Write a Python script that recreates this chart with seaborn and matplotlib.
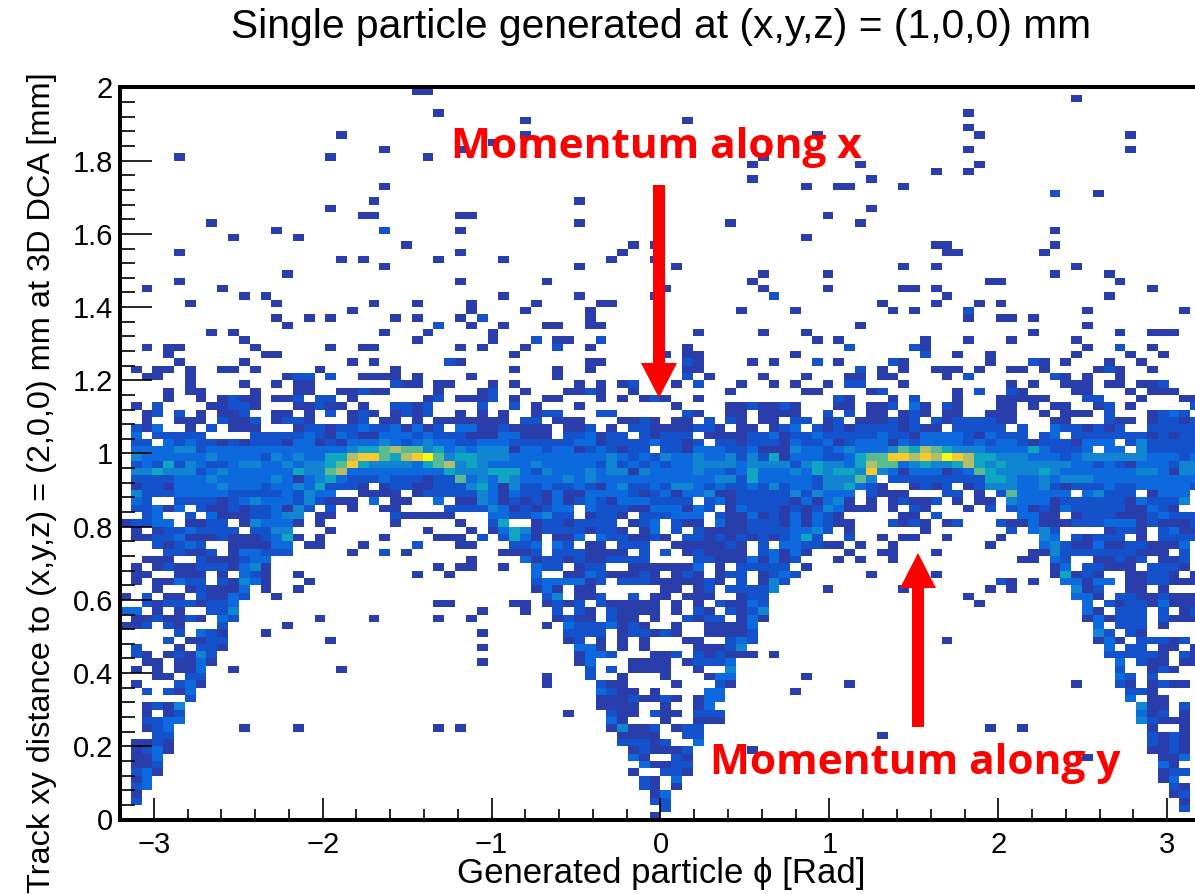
import numpy as np
import matplotlib
matplotlib.use("Agg")
import matplotlib.pyplot as plt
import seaborn as sns
from matplotlib.colors import ListedColormap
from matplotlib.patches import FancyArrow
from matplotlib.transforms import IdentityTransform

# 2D histogram cells, one string per row from y=2 downwards.
# token = column or column range, ":n" gives the count (default 1)
rows_top = [
    "27 28", "88", "", "29 78", "37 52", "78", "20 37 64 79 93", "34", "24 31 78 93", "5 19 28 59",
    "58 68 79", "75 78", "58 69", "24 63 66 67 72", "86:2 90", "23 42", "19 69", "22 23 31 32 65",
    "8 42 56 68", "14 24:2 31 86", "10 16 63", "26 47 49 75 76 86", "5 31 46 76 77 85",
    "20 22 29 35 45 49", "24 42 51 72 75 88", "15 59 65 86 91", "5 31 39 58 80 81 92",
    "2 9 50 59 65 72 73 75 95", "11 13 35 42 49 60:2 76 91", "6 14 23 27 32 38 44 45 70 75 79 81",
    "21 32 37 43 57 62 71 73 78:2 89 98", "14 17 19 25 27 31 33:2 43 78 81 82 84",
    "15 29:2 32 35 39 40 43 44 68 89", "8 10 24 28 34 53 59 63 84 92 95-97",
    "11 27 34 38:2 40 41 44:2 64 66 74 78 82 88",
]
rows_band = [
    "2 4 5 12 19 22 23 31 33 37 40:2 43 52 67:2 73:2 74 89 92:2 95",
    "4 13 14 36 50 52 53 62 74:2 77 80 88 93 96",
    "5 11 21 23 30:2 31 43 44 52:2 53 58 60 64:2 66 71:2 72 80 84:2 85 87 91 94",
    "1 3 4 6 9 10 12 18 25 36 40 43 52 53 68:2 70 72 75-77 79 82 83 85 90 91:2 92 95",
    "2 3 6 15 16:2 17:2 19:2 22-25 27 32 40 52:2 54 59 63 67 68 70 71 76 78:2 86:2 87 89 92",
    "6 11 14 16 17 25:2 26 27 29 30 34 36 42 44 46 47:2 51 53:2 57 60 62 65 67:2 68:2 72 82 84 87-89 91 92 94 95 96:2",
    "4 6 7 12 16 17 20 21 22:2 23 24 29 33 34:2 37 41 42 43:2 44 47 56 63 64 69 70:2 77 79:2 82:2 83 88 89 93 95-97",
    "4 7 9 10:2 11 12 14 15 16:2 18:2 19:2 21 28 29:2 31 32 33 34:2 36 39 40 44 46 48 49:2 50 53 66:2 67 71 73:2 77 81-85 89:2 90:2 94 98 99",
    "1 3:2 8 9 10:2 11:2 12 16 17 18:2 19 20 22 25:2 26:2 27 28:2 33:2 36:2 38 42 51 56 57 58:2 59 60 61:2 62 66 67 69 70 71:2 73:3 74 76:2 77 81 82 84 86 87 90 91:2 93 99:2",
    "2 3:2 5:2 7 9 10 11:2 14 15 17 19:2 21 22:2 23 25 26:2 27 28:2 31 33 35 38 39:2 40:2 44:2 45:2 52:2 53 56 57 59-62 65:2 67:2 69 70 72 73:2 74 76 77 80-82 85 87-89 91:2 95 96:2 97:3 98:2",
    "2 5-7 9:2 10 11 12:2 14 15:2 16:2 17 21 22:2 24 25 27 29-32 33 34 35 37:2 38:2 40-42 46 47 48:2 49 51 52 54:2 56:2 57 59 60 62:2 63:2 65 66:2 68-70 71:2 72 73:2 75:2 76 77-80:2 81 82 86 87 91:2 92 93 95 96:2 97:2 98 99:2",
    "1:2 2 3:3 6 8:2 10-12 16 17:2 18:2 19 20:2 21:2 22:3 23:2 24:2 25:3 26 27:3 28 29:2 31:3 32:3 33 34 35:2 36-39 41 42 43:2 45 47:2 48:2 49-52 53:2 54:2 55 57 58 60 61:2 62:3 64:2 65 66:2 67 68-70:2 71:2 72 73:2 74 75 77-81:2 83:2 86:3 87:2 88:2 89 90:2 91 92:2 95-99:2",
    "1:3 3-7:2 12-16:2 17:3 18:2 19 20:3 21:2 22 23 24:3 25:3 26:3 27:2 28:3 29-31:2 32-34 35:3 36:3 37-39 41:2 42:2 43:3 44 45:2 46:2 48:2 49 50-52:2 54-57 58:2 59:2 60:3 61 62-63:2 64:3 65-69:2 70:3 71:2 72:2 73 74-77:3 78:2 79 80:3 81-83:2 85:2 86:3 88-94:2 95 96:2 97 98:2 99:2",
    "1:2 2:2 4:3 5:2 6:3 7:2 8:2 9 10:2 11 12:2 13:2 14:2 15 16:3 17:3 18 19:2 20 21:3 22:3 23:3 24:4 25:3 26:2 27:3 28:4 29:3 30:3 31:2 32:2 33:3 34:3 35:3 36:2 37-41:2 42:3 43:3 44 45-48:2 49:3 50:2 51:2 52 53:2 55:2 56:2 57 58-60:2 61 62:3 63:2 64:2 65:3 66 67:2 68:3 69:3 70:3 71 72:3 73:2 74-77:3 78:2 79:3 80:2 81:3 82:3 83:2 84 85-87:2 88 89-91:3 93:2 94:4 95-99:2",
    "1:3 2:3 3:3 4:3 5:4 6:4 7:2 8:3 9-20:3 21:4 22:5 23:5 24:6 25:7 26:6 27:6 28:4 29:5 30:3 31:4 32:3 33:4 34:4 35:4 36 37:3 38:3 39:2 40:3 41:3 42 43:2 44:3 45:2 46 47:2 48:2 50:2 51:2 52 53-55:3 56:2 57:2 58:3 59-61 62:4 63:3 64:3 65:2 66:3 67:4 68:3 69:3 70:3 71:4 72:6 73:5 74:7 75:6 76:5 77-79:4 80-83:3 84:5 85:3 86-88:2 89:3 91:3 92:3 94:4 95-99:2",
    "1:4 2-7:3 8:4 9-12:3 13:2 14:4 15:3 16:4 17:3 18:3 19:5 20:5 21:7 22:8 23:8 24:6 25:5 26:7 27:8 28:9 29:6 30:4 31:5 32:5 33:4 34:4 35:4 36-44:3 45:4 46:3 47:2 48:3 49:2 50:4 51:3 52:3 53:4 54:3 55:3 56:4 57:2 58:4 59:2 60:5 61 62:3 63:3 64:3 65:2 66:2 67:3 68:5 69:6 70:6 71:8 72:8 73:7 74:8 75:7 76:9 77:8 78:7 79:5 80:5 81-83:4 84-86:3 87:2 88:3 89-94:4 95-97:3 98:2 99:3",
    "1:2 2:3 3:2 4:5 5:2 6:4 7:3 8:2 9:2 10:3 11:4 12:4 13:3 14:3 15:4 16:3 17:4 18:4 19:5 20:6 21:8 22:5 23-26:4 27:3 28:5 29:6 30:7 31:4 32:5 33:4 34-37:3 38:4 39-43:3 44:2 45:4 46:2 47:3 48:2 49:3 50:2 51:3 52:3 53-56:4 57:3 58-61:4 62:2 63:4 64:5 65:4 66:4 67:3 68:5 69:7 70:6 71:6 72:3 73:4 74:5 75:4 76:4 77:5 78:7 79:5 80:4 81:5 82-87:4 88:3 89:3 90:2 91:3 92:2 93 94-96:3 97:2 98:4 99:4",
    "1:4 2:4 3:5 4-6:4 7:2 8:3 9:4 10-15:3 16:5 17:4 18:4 19:6 20:7 21-29:3 30:5 31-33:4 34-36:5 37:3 38:2 39:4 40-42:3 43:4 44:3 45:4 46:4 47 48:4 49-52:3 53:4 54:3 55:3 56:2 57:3 58:5 59-61:3 62:4 63:3 64:5 65:4 66:5 67:5 68:4 69:8 70:4 71:3 72 73-75:3 76 77:2 78:3 79:6 80:5 81-84:4 85:5 86:4 87-93:3 94:4 95:4 96:3 97 98:4 99:4",
    "1-4:2 5-7:3 8:4 9-13:3 14:4 15:3 16 17:3 18:4 19:5 20:3 21-23:2 24:3 25-27:2 28 29:2 30:2 31:6 32:3 33:4 34:3 35:5 36:4 37-40:3 41:4 42:3 43:4 44-54:3 55:4 56:4 57:2 58:5 59-63:3 64:2 65-67:4 68:6 69:4 71-79:2 80:5 81:5 82:4 83:3 84:3 85:4 86:3 87-89:4 90-99:3",
    "1 2:2 3:2 4 5:3 6-8:3 9:4 10-12:3 13:2 14:3 15:3 16:4 17:3 18:5 19:2 20:2 21:2 22 24 25:2 26:2 27 28 29-31:2 32:4 33:5 34:3 35 36:4 37:2 38:2 39:3 40:2 41:2 42:3 43:2 44 45:3 46:4 47:2 48:2 49:3 50:2 51:4 52:4 53:3 54:2 55:3 56:2 57:2 58:3 59:2 60:4 61:2 62:3 63:3 64:2 65:4 66:4 67:5 68:3 69:2 70 73 74:2 75 76:2 78 79:2 80:4 81:4 82:4 83:3 84:3 85:4 86:2 87 88-90:2 91:3 92:2 93:2 94-98:3 99:2",
    "1:4 2-4:2 5:3 6:3 7-9:3 10-14:2 15:3 16:2 17:4 18:3 19:3 22-25 27 28-32:2 33:4 34:3 35 36:3 37:2 38:2 39 40:3 41 42 43:3 44-46:3 47:2 48 49:2 50:3 51 52:3 53:3 54:4 55 56 57-61:2 62:4 63:2 64:4 65:3 66:3 67:3 69:2 70-72 76:2 77:2 79 81:2 82:6 83-87:3 89:3 90:4 91:2 92:2 93:2 95 96:3 97:3 98:3",
    "1:3 2:2 5-8:2 9 10:2 11:3 12:4 13:3 14:3 15:3 16:2 17:4 18:2 19-21 23:3 25 26 29:3 31 32 33:4 34:3 35 36:2 37 38:2 39 40:3 41 42:2 43:3 44:2 45 46-48:3 49-52:2 54:2 55:3 56 57-61:2 62 63:3 64 65:3 66:4 67 69 71 72:2 73 74 75:2 77 79 80 82:4 83:3 84:3 85:3 86 87-92:2 93 94:3 95-97:2 98:4",
    "1:2 2:2 3:3 4 5:3 7:2 8 9 10:2 11 12:2 13:2 14:3 15 16:4 17:2 19:2 21 24 25 30-32:2 33:2 34:4 35:3 36 37:2 38 39:2 40:3 41:3 43:3 44-46:2 47 48 49-51:3 52 53:3 54:2 56 57:3 58-60:2 61 62:2 63 64:2 65:4 66:3 67-69 71 73:2 74 78 80:2 82:2 83:3 84 85:2 86 87:3 88-92:2 93 94 95:3 96:2 97",
    "2:2 3:3 6:2 8:3 9-11 12:2 13:2 14:3 15:4 16:4 18 19 25:2 26-30 34:3 35:3 36:2 37:2 38:3 39:4 40:2 41:2 43 44:2 45:2 46 48-50:2 51:3 52:3 53:3 55:2 56 57 58:3 59 60:2 61 62:3 63 64:3 65:2 66 72 73 75:2 83:3 84:3 85 86 88 89-91:2 92-94 95:2 96:3 97:2 98:2 99:2",
    "0 1:2 2:2 3:3 4:3 6 7 8:2 9:2 11 12:4 13:3 14:3 15:3 16 18 25 31 34:2 35:5 38 39:2 40:2 41 42-45:2 47 48:2 49:3 51:2 52 53 55:3 56 57 58-60:2 61 62:3 63 64:3 65:2 66 67 71:2 72 73:2 74 76 77:2 81:2 82 83 84:3 85-87 88-90:2 91:3 92:3 93:3 94 95:2 96-98 99:2",
    "1 3 4-5:2 6:3 7-10:2 12:2 13:2 14:4 15:4 19 28 32 34 35:3 36:5 37:4 38 39-42:2 43 44:2 45:2 46 48 49:3 51:2 53:2 54-57 58-61:2 62:3 63:3 64:4 65:2 67 74 82:2 84:3 85:4 86:2 91 92:2 93:2 94 96:2 97:3 98 99",
    "1 2 3:2 4:2 5:3 6-8 9:2 10-12 13:2 14:3 15:5 16 18 24 29-31 33:2 35:2 36:5 37:3 38 40 41 42:3 44:3 45:2 46:2 47 48 49:2 50 52:2 53:2 54 55:2 56 57:2 58 59:2 60 61:2 62:3 63:5 64:2 67:2 70 72 73 76 81 85:4 86:3 88:2 89 90-92:2 94 96-99:2",
    "3:2 4 5:2 6:3 7:2 10 11 12 13 14:3 15:3 17 18 22 27:2 31 32 36:2 37:2 38:3 40:3 41:2 43 44 46:2 47:2 48:2 51-55 56:2 57 59:2 61:3 62:3 63:2 64:2 65 66 68 71 80 85:3 86:4 87:2 88 89 90:3 91 92 93:2 94:2 95-97 98:3",
    "4:2 5:2 6 7 8:2 10 11:3 12:3 13:2 14:2 15:2 21 24:2 26 35-37 38:2 40-42:2 43-46 48:2 50:2 52 53:2 54-57 59:2 60:3 61 62:3 63 67 70 71 75 84 85 86:4 87-93:2 94-96 98:2",
    "2-4 7:2 8-10 11:2 12:3 13:3 32 37:3 38 39:2 40:2 41 42:2 43 44 45-48:2 53:2 54:2 55-57 58:3 59 60:3 61 62:2 66 68 71 83 84 86:3 87:2 90 91 92:2 93 94:2 96 97 98:2",
    "1 3 4:2 5 6 7-9:2 10 11:3 12:4 13 29 31 32 35 38:3 39:2 40:2 42 43:2 44:2 47-52 53:3 55 57-61:2 63 86 87:3 89:2 90:2 91-93 95-97:2 98",
    "1 2 5-7 9 11:3 12:2 13 16 27 30 38:3 41 42 43:3 44:2 45-47 48:2 49 51 52:2 53 55 56:2 57:2 59 60:2 61:3 62:2 69 75 86 87:5 88 89:2 90 93 94 95-96:2 97 99",
]
rows_low = [
    "1 3 4 5:3 6:2 7:2 9:2 10 11:4 12:3 13 17 38:2 39-42:3 43 44:2 46-48:2 49-53 54:2 55 57:2 59 60:4 61:2 81:2 82 84 87:3 88:3 89 90:3 91:3 93 94 95:2 96:2 97-99",
    "3 6 7:2 8-10 11:3 13 16 38 39:3 40 42 43 50 51 53 54:2 56:2 57:2 58:2 59:2 60:4 65 72 80 82 88:4 89 90:2 93 94 96",
    "0 2:2 4 5 7:2 8 9 10:3 11:2 14 39:2 40:4 42 43 44:2 47:2 49 50 52-54 57 58:2 59:2 78 88:3 89:3 90 92:2 93:2 94 95 96:2 97-99",
    "2:2 3 4-6:2 7 8:2 9:2 10:3 29 30 36 37 39 40:2 41 42:2 44:2 45-49 51 53 55:2 56 57 58:3 59:2 79 89:3 91:2 92 93:2 94:2 95 96:3 97-99",
    "0:3 1:3 3 5 8:2 9:2 10:4 33 37 40:2 42:2 43 45:2 46-49 51 53:2 54 56:2 57 58:2 59:4 89:3 90 92-94:2 96:2 98 99:2",
    "1 2 3:2 4 5 6:2 7 9:3 10:2 18 23 29 32 40 41:2 42 43 45:2 46 47 49 52:2 53 54:2 55:2 57 58:3 59 89 90:3 91 92-94:2 96:2 97-99",
    "0 1 2:2 4:2 5 9:2 15 39 41:3 42-44:2 45:3 46 47:2 48 51 54-57 58:3 90:3 92-94:2 96",
    "5:2 7:3 8:2 9 13 33 41-44:2 46 47:2 48:2 49 50:2 51 54-57 58:2 90:4 91:2 93:2 94",
    "4:2 6 7 8:2 9:2 19 41 42:2 44 46 48 52 53 56:2 57:3 58:2 76 90 91:3 92 94:2 95:2 96:2 97 98:2",
    "1:2 5 7:2 8:2 9 33 42:3 43:3 44 46 48 53-55 56:2 57:4 91:3 93:2 94:2 96 97 99",
    "1:2 2 4 5:2 6 7:4 8:2 42 43:3 44:3 45:2 49 50 51:2 53:2 54 55:2 56-58 60 91-95:2 96 98:2 99",
    "2 3 5 6 7:3 8 33 42 43:3 47-50 52 53:2 54:2 55:2 56:3 92:3 94:2 95 96 98 99",
    "1 3 5 6 7:3 10 20 43:2 45:2 47-50 53 56:4 92:2 95 96:2 97",
    "3 4 6:2 7:2 39 43:2 46 50 54 55:3 56:3 63 92:3 93:2 95:2",
    "1 5:2 6:3 7 39 44:2 45 46 51 55:2 56 67 88 92:2 93 95 96:2 97 98",
    "2:2 4:2 5 6:3 44:3 45:2 46 47 49 54:3 55:3 62 93:2 94:2 95",
    "6:2 44-46 47:2 48 49 50:2 51 53 54:3 55:3 93:3 95 96",
    "2 3:2 4 5:4 44-47 50 53 54:3 94:4 95 96 98:2",
    "2 4 5:2 41 45:2 46 47 49:2 50 51 53-55:2 94:3 95 96:2 98",
    "2:2 3:2 4:3 5:3 45:3 46 50 53-55 94:4 95:2 96-98",
    "2 3:2 4:3 11 16 29 31 45 46:4 47 48 49:2 51 52:2 53:2 80 83 95 98",
    "3:2 4:2 46-49 52:2 53:2 70 95:2 96 97:2 98",
    "1 2 3:2 4 46-48:2 49 50:2 53:3 95:2 96 97:2 98",
    "1 2:2 3:3 4 47 48:2 49-51 52:2 58 95 96 97:2 98",
    "1 2 3:3 47:3 48 51:2 52 89 96 97 98:3",
    "1 2 3:2 48:3 49 50 51:2 52:2 96:3 97",
    "1:2 2:3 3 47 50:2 51:2 52 96 97:2 98:2",
    "1 2:3 48:2 49 51:3 96 97:3",
    "1:2 2:3 48:2 49 51 97:2 98",
    "1 49 50:3 97 98:2",
    "1:2 49:2 50:2 98",
    "50:2 98:2",
    "49",
]

phi_ticks = [-3, -2, -1, 0, 1, 2, 3]
dist_ticks = [0, 0.2, 0.4, 0.6, 0.8, 1, 1.2, 1.4, 1.6, 1.8, 2]
bird_colors = ["#2a3eab", "#1452cc", "#0d69de", "#1285d2", "#10a6c2",
               "#58bb92", "#b4bd68", "#f6c92c", "#f8fb0e"]

plt.rcParams['font.family'] = ['Liberation Sans', 'DejaVu Sans']

W, H = 1195, 894


def parse_rows(rows):
    grid = np.zeros((len(rows), 100))
    for i, row in enumerate(rows):
        for tok in row.split():
            cols, _, n = tok.partition(":")
            a, _, b = cols.partition("-")
            grid[i, int(a):int(b or a) + 1] = int(n or 1)
    return grid


counts = parse_rows(rows_top + rows_band + rows_low)

fig = plt.figure(figsize=(W / 100, H / 100), dpi=100)
# the right edge of the frame falls outside the picture, as in the original
ax = fig.add_axes([120 / W, (H - 819.5) / H, 1081 / W, 732 / H])
sns.heatmap(counts, mask=counts == 0, cmap=ListedColormap(bird_colors), vmin=0.5, vmax=9.5,
            cbar=False, ax=ax, xticklabels=False, yticklabels=False)

# bins are 0.064 rad and 0.02 mm wide
to_col = lambda p: (np.asarray(p) + 3.2) / 0.064
to_row = lambda d: (2 - np.asarray(d)) / 0.02

ax.set_xticks(to_col(phi_ticks))
ax.set_xticklabels(["\u2212" + str(-p) if p < 0 else str(p) for p in phi_ticks])
ax.set_xticks(to_col(np.arange(-3.2, 3.21, 0.2)), minor=True)
ax.set_yticks(to_row(dist_ticks))
ax.set_yticklabels([str(d) for d in dist_ticks])
ax.set_yticks(to_row(np.arange(0, 2.01, 0.04)), minor=True)

ax.tick_params(axis='x', which='major', direction='in', length=16, width=1.2, labelsize=21, pad=8,
               top=False, bottom=True, labelbottom=True)
ax.tick_params(axis='x', which='minor', direction='in', length=8, width=1.2, top=False, bottom=True)
ax.tick_params(axis='y', which='major', direction='in', length=23, width=1.2, labelsize=21, pad=5,
               left=True, labelleft=True)
ax.tick_params(axis='y', which='minor', direction='in', length=11, width=1.2, left=True)

for side in ['left', 'bottom', 'top']:
    ax.spines[side].set_visible(True)
    ax.spines[side].set_linewidth(2.9)
    ax.spines[side].set_color('black')

fig.text(661 / W, 1 - 27 / H, "Single particle generated at (x,y,z) = (1,0,0) mm",
         ha='center', va='center', fontsize=29.3)
fig.text(661 / W, 1 - 873 / H, "Generated particle \u03d5 [Rad]", ha='center', va='center', fontsize=25)
fig.text(42 / W, 1 - 483 / H, "Track xy distance to (x,y,z) = (2,0,0) mm at 3D DCA [mm]",
         rotation=90, ha='center', va='center', fontsize=23.4)

# red annotations on top
fig.text(656 / W, 1 - 148 / H, "Momentum along x", color='red', fontweight='bold',
         family='Open Sans', ha='center', va='center', fontsize=30.5)
fig.text(915 / W, 1 - 763 / H, "Momentum along y", color='red', fontweight='bold',
         family='Open Sans', ha='center', va='center', fontsize=30.5)

px = IdentityTransform()
fig.add_artist(FancyArrow(659, H - 185, 0, -213, width=12, head_width=36, head_length=35,
                          length_includes_head=True, color='red', lw=0, transform=px))
fig.add_artist(FancyArrow(918, H - 727, 0, 174, width=12, head_width=36, head_length=35,
                          length_includes_head=True, color='red', lw=0, transform=px))

fig.savefig("out.png", dpi=100)
